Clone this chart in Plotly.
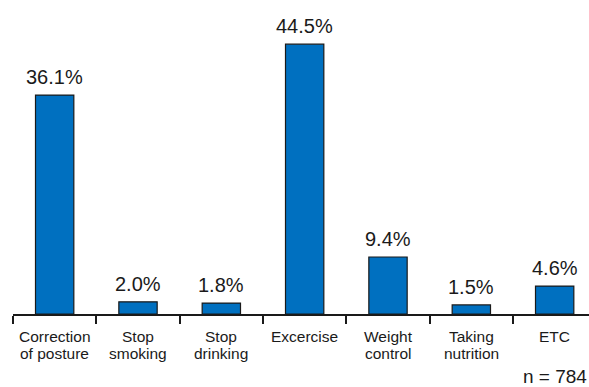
import plotly.graph_objects as go

# Survey responses: health behaviours people plan to change (n = 784)
categories = ["Correction of posture", "Stop smoking", "Stop drinking", "Excercise",
              "Weight control", "Taking nutrition", "ETC"]
label_line1 = ["Correction", "Stop", "Stop", "Excercise", "Weight", "Taking", "ETC"]
label_line2 = ["of posture", "smoking", "drinking", "", "control", "nutrition", ""]
percent = [36.1, 2.0, 1.8, 44.5, 9.4, 1.5, 4.6]
sample_note = "n = 784"

FONT = "Arial, Liberation Sans, Helvetica, sans-serif"
BAR_BLUE = "#0070C0"
INK = "#1a1a1a"

fig = go.Figure(
    go.Bar(
        x=categories,
        y=percent,
        width=0.46,
        marker=dict(color=BAR_BLUE, line=dict(color=INK, width=1.2)),
        cliponaxis=False,
    )
)

annotations = []
# percentage labels above each bar
for cat, v in zip(categories, percent):
    annotations.append(dict(x=cat, y=v, xref="x", yref="y", text=f"{v:.1f}%",
                            showarrow=False, yanchor="bottom", yshift=5,
                            font=dict(family=FONT, size=20, color=INK)))

# two-line category labels under the axis
for cat, l1, l2 in zip(categories, label_line1, label_line2):
    annotations.append(dict(x=cat, y=0, xref="x", yref="paper", text=l1,
                            showarrow=False, yanchor="middle", yshift=-22.5,
                            font=dict(family=FONT, size=15.5, color=INK)))
    if l2:
        annotations.append(dict(x=cat, y=0, xref="x", yref="paper", text=l2,
                                showarrow=False, yanchor="middle", yshift=-39.5,
                                font=dict(family=FONT, size=15.5, color=INK)))
annotations.append(dict(x=1, y=0, xref="paper", yref="paper", text=sample_note,
                        showarrow=False, xanchor="right", yanchor="middle",
                        yshift=-62, font=dict(family=FONT, size=19, color=INK)))

fig.update_layout(
    width=589,
    height=387,
    margin=dict(l=13, r=0, t=10, b=73),
    paper_bgcolor="white",
    plot_bgcolor="white",
    showlegend=False,
    annotations=annotations,
    xaxis=dict(
        range=[-0.5, 6.412],
        showline=True,
        linecolor=INK,
        linewidth=1.5,
        ticks="outside",
        tickson="boundaries",
        ticklen=8,
        tickwidth=1.5,
        tickcolor=INK,
        showticklabels=False,
        showgrid=False,
        zeroline=False,
    ),
    yaxis=dict(range=[0, 50.14], visible=False, showgrid=False, zeroline=False),
)

fig.write_html("out.html")
